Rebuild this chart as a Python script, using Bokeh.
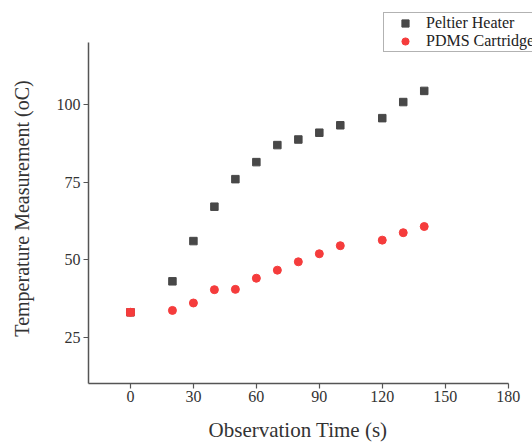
import math
from bokeh.plotting import figure
from bokeh.models import Range1d, FixedTicker, Legend, LegendItem, Label
from bokeh.embed import file_html
from bokeh.resources import INLINE

time_s = [0, 20, 30, 40, 50, 60, 70, 80, 90, 100, 120, 130, 140]
peltier = [33.0, 43.0, 56.0, 67.1, 76.0, 81.5, 87.0, 88.8, 91.0, 93.4, 95.7, 100.9, 104.5]
pdms = [33.0, 33.6, 36.0, 40.3, 40.4, 44.0, 46.6, 49.3, 51.9, 54.5, 56.3, 58.7, 60.7]
x_ticks = [0, 30, 60, 90, 120, 150, 180]
y_ticks = [25, 50, 75, 100]
x_axis_span = (-20, 180)
y_axis_span = (10, 120)

FONT = "Liberation Serif"
GRAY = "#484848"
RED = "#f53c3c"

# the frame fills the whole canvas; the axes are pinned at the data corner
p = figure(width=532, height=442, output_backend="svg", toolbar_location=None,
           x_range=Range1d(-61.94, 191.6), y_range=Range1d(-9.06, 133.7),
           min_border_left=0, min_border_right=0, min_border_top=0, min_border_bottom=0)
p.outline_line_color = None
p.xgrid.visible = False
p.ygrid.visible = False
p.background_fill_color = "white"

sq = p.scatter(time_s, peltier, marker="square", size=7.5, fill_color=GRAY, line_color=GRAY)
ci = p.scatter(time_s, pdms, marker="circle", size=8, fill_color=RED, line_color=RED)
p.scatter(time_s[:1], pdms[:1], marker="square", size=7.5, fill_color=RED, line_color=RED)

p.xaxis.fixed_location = y_axis_span[0]
p.yaxis.fixed_location = x_axis_span[0]
for ax, ticks, span in ((p.xaxis[0], x_ticks, x_axis_span), (p.yaxis[0], y_ticks, y_axis_span)):
    ax.ticker = FixedTicker(ticks=ticks)
    ax.bounds = span
    ax.minor_tick_line_color = None
    ax.major_tick_out = 5
    ax.major_tick_in = 0
    ax.axis_line_color = "#555555"
    ax.axis_line_width = 1.5
    ax.major_tick_line_color = "#555555"
    ax.major_tick_line_width = 1.2
    ax.major_label_text_font = FONT
    ax.major_label_text_font_size = "16px"
    ax.major_label_text_color = "#333333"

p.xaxis.major_label_standoff = 3
p.yaxis.major_label_standoff = 3

xt = Label(x=297.5, y=13, x_units="screen", y_units="screen",
           text="Observation Time (s)", text_align="center", text_baseline="middle",
           text_font=FONT, text_font_size="21px", text_color="#333333")
yt = Label(x=21, y=234, x_units="screen", y_units="screen", angle=math.pi / 2,
           text="Temperature Measurement (oC)", text_align="center", text_baseline="middle",
           text_font=FONT, text_font_size="20px", text_color="#333333")
p.add_layout(xt)
p.add_layout(yt)

legend = Legend(items=[LegendItem(label="Peltier Heater", renderers=[sq]),
                       LegendItem(label="PDMS Cartridge", renderers=[ci])],
                location=(383, 390))
legend.label_text_font = FONT
legend.label_text_font_size = "16px"
legend.label_text_color = "#222222"
legend.border_line_color = "#666666"
legend.border_line_width = 1
legend.glyph_width = 40
legend.glyph_height = 18
legend.label_height = 18
legend.spacing = 0
legend.padding = 1
legend.margin = 0
legend.label_standoff = 1
legend.background_fill_alpha = 1
p.add_layout(legend, "center")

open("out.html", "w").write(file_html(p, INLINE))
